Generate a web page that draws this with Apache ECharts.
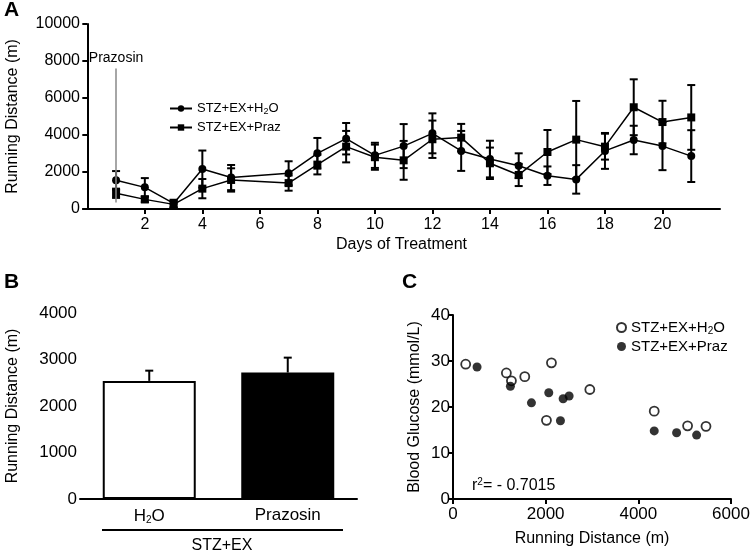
<!DOCTYPE html>
<html>
<head>
<meta charset="utf-8">
<script src="https://cdn.jsdelivr.net/npm/echarts@6/dist/echarts.min.js"></script>
<style>
  html, body { margin: 0; padding: 0; background: #fff; }
  #main { width: 750px; height: 552px; }
</style>
</head>
<body>
<div id="main"></div>
<script>
// panel A: running distance per day
const days = [1, 2, 3, 4, 5, 7, 8, 9, 10, 11, 12, 13, 14, 15, 16, 17, 18, 19, 20, 21];
const h2oMean = [1550, 1170, 300, 2160, 1700, 1930, 3010, 3800, 2900, 3400, 4090, 3140, 2700, 2340, 1800, 1600, 3140, 3730, 3400, 2860];
const h2oSem = [500, 500, 200, 1000, 680, 650, 830, 850, 680, 1190, 1080, 1080, 990, 670, 500, 770, 970, 770, 1300, 1400];
const prazMean = [850, 520, 250, 1100, 1570, 1400, 2400, 3370, 2800, 2630, 3770, 3860, 2470, 1840, 3080, 3750, 3370, 5500, 4700, 4950];
const prazSem = [250, 150, 200, 520, 630, 410, 530, 850, 680, 1050, 1010, 740, 850, 600, 1190, 2090, 700, 1510, 1150, 1750];
const dayTicks = [2, 4, 6, 8, 10, 12, 14, 16, 18, 20];

// panel B: mean running distance
const groups = ['H2O', 'Prazosin'];
const groupMean = [2540, 2720];
const groupSem = [220, 320];

// panel C: blood glucose vs running distance
const h2oDist = [274, 1152, 1261, 1549, 2017, 2125, 2953, 4343, 5063, 5460];
const h2oGlucose = [29.3, 27.4, 25.7, 26.6, 17.1, 29.6, 23.8, 19.1, 15.9, 15.8];
const prazDist = [519, 1239, 1693, 2067, 2319, 2377, 2506, 4343, 4826, 5258];
const prazGlucose = [28.7, 24.5, 20.9, 23.1, 17.0, 21.8, 22.4, 14.8, 14.4, 13.9];

const FONT = 'Liberation Sans, Arial, sans-serif';
const sub = { sub: { fontSize: 10, verticalAlign: 'bottom', padding: [8, 0, 0, 0], fontFamily: FONT } };
const plain = v => String(v);

function errorBars(upOnly) {
  return function (params, api) {
    const x = api.value(0), m = api.value(1), e = api.value(2);
    const hi = api.coord([x, m + e]);
    const lo = api.coord([x, upOnly ? m : m - e]);
    const w = 4;
    const st = { stroke: '#000', lineWidth: 2 };
    const kids = [
      { type: 'line', shape: { x1: hi[0], y1: hi[1], x2: lo[0], y2: lo[1] }, style: st },
      { type: 'line', shape: { x1: hi[0] - w, y1: hi[1], x2: hi[0] + w, y2: hi[1] }, style: st }
    ];
    if (!upOnly) {
      kids.push({ type: 'line', shape: { x1: lo[0] - w, y1: lo[1], x2: lo[0] + w, y2: lo[1] }, style: st });
    }
    return { type: 'group', children: kids };
  };
}

const axisLine = { lineStyle: { color: '#000', width: 2 } };
const axisTick = { length: 5, lineStyle: { color: '#000', width: 2 } };

const chart = echarts.init(document.getElementById('main'));
chart.setOption({
  animation: false,
  textStyle: { fontFamily: FONT, color: '#000' },
  grid: [
    { left: 83, top: 24, width: 637, height: 185, outerBoundsMode: 'none' },
    { left: 80, top: 313, width: 277, height: 186, outerBoundsMode: 'none' },
    { left: 453, top: 315, width: 278, height: 184, outerBoundsMode: 'none' }
  ],
  xAxis: [
    {
      gridIndex: 0, type: 'value', min: -0.15, max: 22,
      name: 'Days of Treatment', nameLocation: 'middle', nameGap: 28,
      nameTextStyle: { fontSize: 16, color: '#000' },
      axisLine: axisLine, axisTick: Object.assign({ customValues: dayTicks }, axisTick),
      axisLabel: { customValues: dayTicks, fontSize: 16, color: '#000', margin: 8, formatter: plain },
      splitLine: { show: false }
    },
    {
      gridIndex: 1, type: 'category', data: groups,
      axisLine: axisLine, axisTick: { show: false },
      axisLabel: {
        fontSize: 17, color: '#000', margin: 8,
        formatter: v => v === 'H2O' ? 'H{sub|2}O' : v,
        rich: sub
      }
    },
    {
      gridIndex: 2, type: 'value', min: 0, max: 6000, interval: 2000,
      name: 'Running Distance (m)', nameLocation: 'middle', nameGap: 32,
      nameTextStyle: { fontSize: 16, color: '#000' },
      axisLine: axisLine, axisTick: axisTick,
      axisLabel: { fontSize: 17, color: '#000', margin: 7, formatter: plain },
      splitLine: { show: false }
    }
  ],
  yAxis: [
    {
      gridIndex: 0, type: 'value', min: 0, max: 10000, interval: 2000,
      name: 'Running Distance (m)', nameLocation: 'middle', nameGap: 62,
      nameTextStyle: { fontSize: 16, color: '#000' },
      axisLine: axisLine, axisTick: axisTick,
      axisLabel: { fontSize: 16, color: '#000', margin: 3, formatter: plain },
      splitLine: { show: false }
    },
    {
      gridIndex: 1, type: 'value', min: 0, max: 4000, interval: 1000,
      name: 'Running Distance (m)', nameLocation: 'middle', nameGap: 59,
      nameTextStyle: { fontSize: 16, color: '#000' },
      axisLine: axisLine, axisTick: axisTick,
      axisLabel: { fontSize: 17, color: '#000', margin: 3, formatter: plain },
      splitLine: { show: false }
    },
    {
      gridIndex: 2, type: 'value', min: 0, max: 40, interval: 10,
      name: 'Blood Glucose (mmol/L)', nameLocation: 'middle', nameGap: 30,
      nameTextStyle: { fontSize: 16, color: '#000' },
      axisLine: axisLine, axisTick: axisTick,
      axisLabel: { fontSize: 17, color: '#000', margin: 3, formatter: plain },
      splitLine: { show: false }
    }
  ],
  legend: [
    {
      orient: 'vertical', left: 164, top: 97, itemGap: 5,
      itemWidth: 22, itemHeight: 8,
      data: ['h2oLine', 'prazLine'],
      formatter: n => n === 'h2oLine' ? 'STZ+EX+H{sub|2}O' : 'STZ+EX+Praz',
      textStyle: { fontSize: 13, color: '#000', fontFamily: FONT, rich: { sub: { fontSize: 9, verticalAlign: 'bottom', padding: [6, 0, 0, 0] } } }
    },
    {
      orient: 'vertical', left: 611, top: 315, itemGap: 3,
      itemWidth: 9, itemHeight: 9, icon: 'circle',
      data: ['h2oScatter', 'prazScatter'],
      formatter: n => n === 'h2oScatter' ? 'STZ+EX+H{sub|2}O' : 'STZ+EX+Praz',
      textStyle: { fontSize: 15, color: '#000', fontFamily: FONT, rich: { sub: { fontSize: 10, verticalAlign: 'bottom', padding: [7, 0, 0, 0] } } }
    }
  ],
  graphic: [
    { type: 'text', left: 4, top: 0, style: { text: 'A', font: 'bold 21px ' + FONT, fill: '#000' } },
    { type: 'text', left: 4, top: 272, style: { text: 'B', font: 'bold 21px ' + FONT, fill: '#000' } },
    { type: 'text', left: 402, top: 272, style: { text: 'C', font: 'bold 21px ' + FONT, fill: '#000' } },
    { type: 'line', shape: { x1: 102, y1: 530, x2: 343, y2: 530 }, style: { stroke: '#000', lineWidth: 2 } },
    { type: 'text', x: 222, y: 546, style: { text: 'STZ+EX', font: '16px ' + FONT, fill: '#000', align: 'center', verticalAlign: 'middle' } },
    {
      type: 'text', x: 472, y: 486,
      style: {
        text: 'r{sup|2}= - 0.7015', font: '16px ' + FONT, fill: '#000', verticalAlign: 'middle',
        rich: { sup: { fontSize: 10, verticalAlign: 'top', padding: [0, 0, 8, 0], fontFamily: FONT } }
      }
    }
  ],
  series: [
    {
      name: 'h2oErr', type: 'custom', xAxisIndex: 0, yAxisIndex: 0,
      renderItem: errorBars(false),
      data: days.map((d, i) => [d, h2oMean[i], h2oSem[i]]), z: 3
    },
    {
      name: 'prazErr', type: 'custom', xAxisIndex: 0, yAxisIndex: 0,
      renderItem: errorBars(false),
      data: days.map((d, i) => [d, prazMean[i], prazSem[i]]), z: 3
    },
    {
      name: 'h2oLine', type: 'line', xAxisIndex: 0, yAxisIndex: 0,
      symbol: 'circle', symbolSize: 8,
      itemStyle: { color: '#000' }, lineStyle: { color: '#000', width: 1.5 },
      data: days.map((d, i) => [d, h2oMean[i]]),
      markLine: {
        silent: true, symbol: 'none',
        lineStyle: { color: '#888', width: 1.5, type: 'solid' },
        label: { show: true, position: 'end', formatter: 'Prazosin', fontSize: 14, color: '#000', distance: 3, fontFamily: FONT },
        data: [[{ coord: [1, 350] }, { coord: [1, 7600] }]]
      }
    },
    {
      name: 'prazLine', type: 'line', xAxisIndex: 0, yAxisIndex: 0,
      symbol: 'rect', symbolSize: 8,
      itemStyle: { color: '#000' }, lineStyle: { color: '#000', width: 1.5 },
      data: days.map((d, i) => [d, prazMean[i]])
    },
    {
      name: 'bars', type: 'bar', xAxisIndex: 1, yAxisIndex: 1, barWidth: 93,
      data: groupMean.map((v, i) => ({
        value: v,
        itemStyle: { color: i === 0 ? '#fff' : '#000', borderColor: '#000', borderWidth: 2 }
      }))
    },
    {
      name: 'barErr', type: 'custom', xAxisIndex: 1, yAxisIndex: 1,
      renderItem: errorBars(true),
      data: groups.map((g, i) => [i, groupMean[i], groupSem[i]]), z: 1
    },
    {
      name: 'h2oScatter', type: 'scatter', xAxisIndex: 2, yAxisIndex: 2,
      symbolSize: 9,
      itemStyle: { color: '#fff', borderColor: '#000', borderWidth: 1.8 },
      data: h2oDist.map((d, i) => [d, h2oGlucose[i]])
    },
    {
      name: 'prazScatter', type: 'scatter', xAxisIndex: 2, yAxisIndex: 2,
      symbolSize: 9,
      itemStyle: { color: '#000' },
      data: prazDist.map((d, i) => [d, prazGlucose[i]])
    }
  ]
});
</script>
</body>
</html>
